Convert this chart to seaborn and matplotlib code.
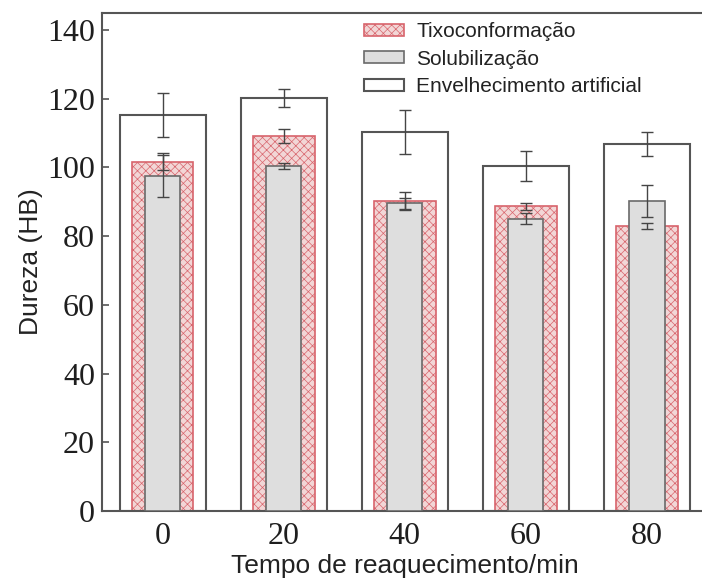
import matplotlib
matplotlib.use("Agg")
import matplotlib.pyplot as plt
import seaborn as sns
import numpy as np

# Reheating time categories (min)
tempos = ["0", "20", "40", "60", "80"]

# Hardness (HB) per processing stage
tixo = [101.6, 109.1, 90.2, 88.7, 82.9]
tixo_err = [2.5, 2.0, 2.5, 1.0, 0.8]

solub = [97.5, 100.4, 89.5, 85.1, 90.2]
solub_err = [6.0, 1.0, 1.5, 1.5, 4.6]

envelh = [115.3, 120.2, 110.3, 100.4, 106.8]
envelh_err = [6.4, 2.7, 6.3, 4.4, 3.5]

legend_labels = ["Tixoconformação", "Solubilização", "Envelhecimento artificial"]

sns.set_style("ticks")
plt.rcParams["font.family"] = ["Liberation Sans", "DejaVu Sans"]
plt.rcParams["hatch.linewidth"] = 0.5

fig = plt.figure(figsize=(7.02, 5.79), dpi=100)
ax = fig.add_axes([102 / 702, 1 - 511 / 579, (707.5 - 102) / 702, (511 - 13) / 579])

edge_dark = "#555555"

sns.barplot(x=tempos, y=envelh, order=tempos, width=0.71, color="white",
            edgecolor=edge_dark, linewidth=1.5, ax=ax, label=legend_labels[2],
            errorbar=None, zorder=1)
sns.barplot(x=tempos, y=tixo, order=tempos, width=0.51, color="#f6d2d2",
            edgecolor="#d8646c", linewidth=1.2, hatch="xxxx", ax=ax,
            label=legend_labels[0], errorbar=None, zorder=2)
sns.barplot(x=tempos, y=solub, order=tempos, width=0.29, color="#dedede",
            edgecolor="#6a6a6a", linewidth=1.2, ax=ax, label=legend_labels[1],
            errorbar=None, zorder=3)

pos = np.arange(len(tempos))
for vals, errs in [(envelh, envelh_err), (tixo, tixo_err), (solub, solub_err)]:
    ax.errorbar(pos, vals, yerr=errs, fmt="none", ecolor="#454545",
                elinewidth=1.0, capsize=4, capthick=1.0, zorder=5)

ax.set_xlim(-0.5, 4.5)
ax.set_ylim(0, 144.9)
ax.set_yticks([0, 20, 40, 60, 80, 100, 120, 140])

for side in ["left", "right", "top", "bottom"]:
    ax.spines[side].set_visible(True)
    ax.spines[side].set_color(edge_dark)
    ax.spines[side].set_linewidth(1.5)

ax.tick_params(axis="y", direction="in", length=5, width=1.2, color=edge_dark, pad=5)
ax.tick_params(axis="x", length=0, pad=8)
for lab in ax.get_xticklabels() + ax.get_yticklabels():
    lab.set_fontfamily(["Liberation Serif", "DejaVu Serif"])
    lab.set_fontsize(23)
    lab.set_color("#1e1e1e")

ax.set_xlabel("Tempo de reaquecimento/min", fontsize=19, color="#222222", labelpad=2)
ax.set_ylabel("Dureza (HB)", fontsize=19, color="#222222", labelpad=3)

handles, labels = ax.get_legend_handles_labels()
order = [labels.index(l) for l in legend_labels]
leg = ax.legend([handles[i] for i in order], [labels[i] for i in order],
                loc="upper left", bbox_to_anchor=(364 / 702, 1 - 22 / 579),
                bbox_transform=fig.transFigure, frameon=False, fontsize=15,
                handlelength=1.9, handleheight=0.5, handletextpad=0.6,
                labelspacing=0.42, borderpad=0, borderaxespad=0)
for t in leg.get_texts():
    t.set_color("#222222")

fig.savefig("out.png", dpi=100)
